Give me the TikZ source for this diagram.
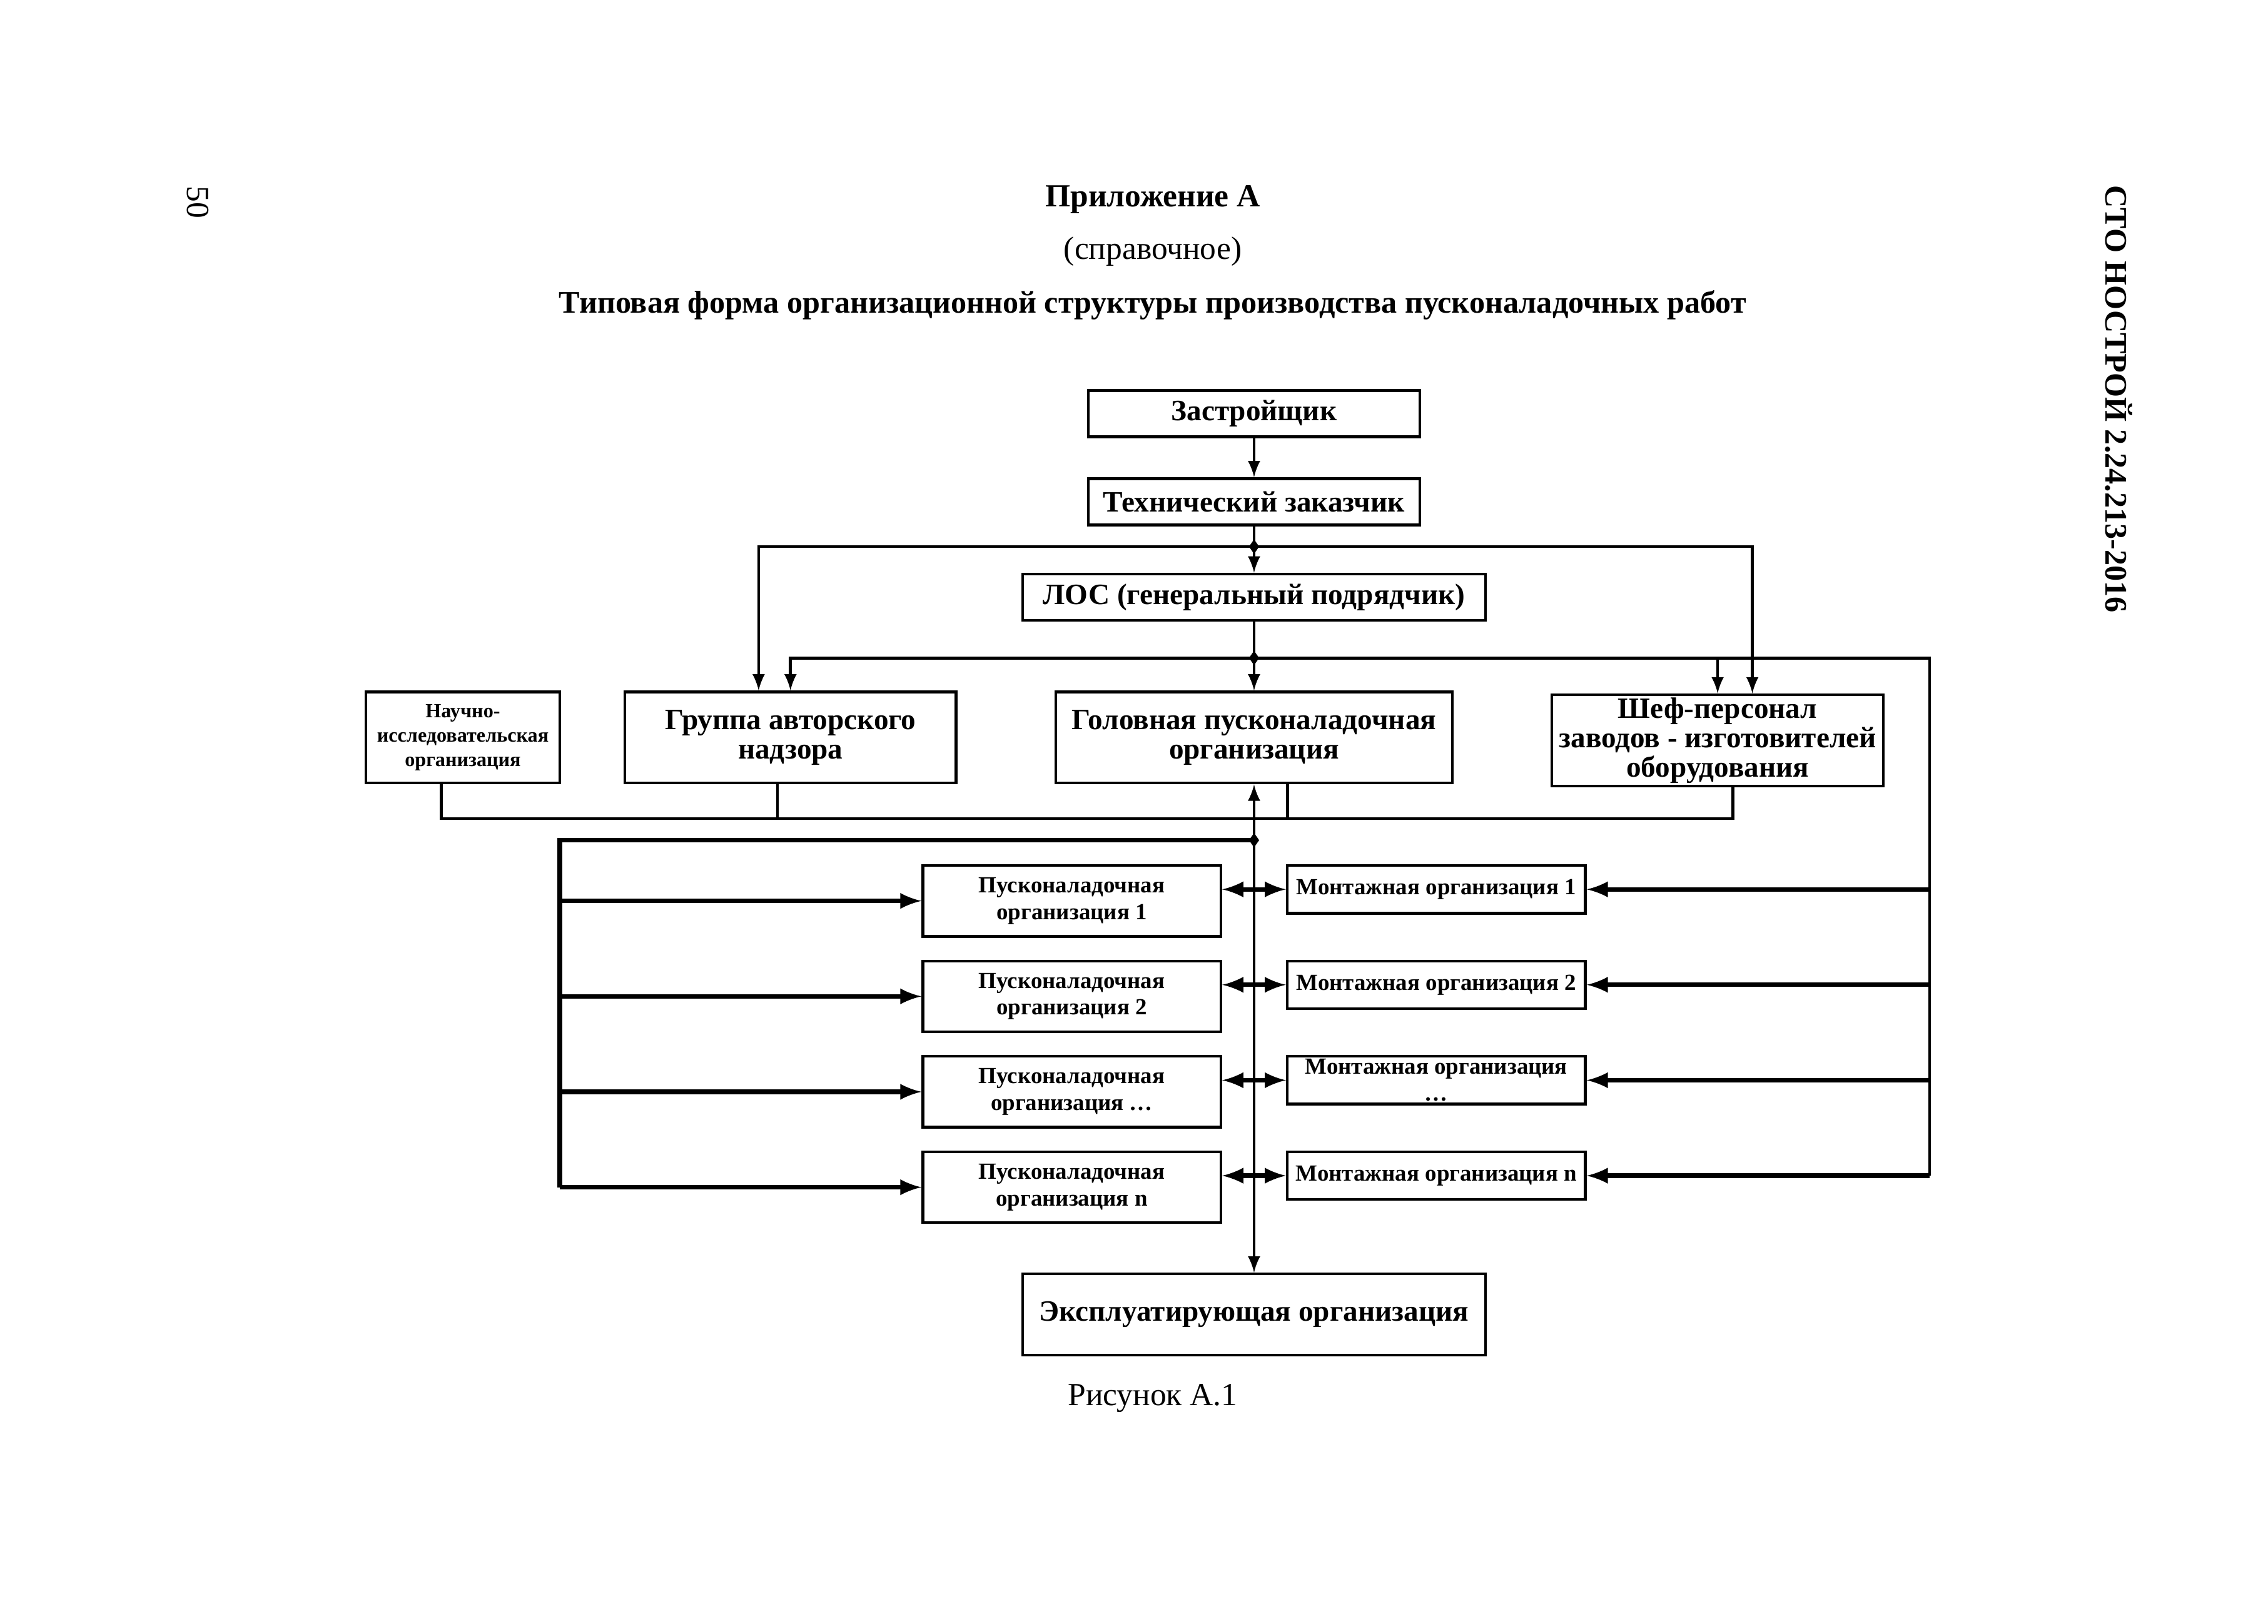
\documentclass[tikz,border=0pt]{standalone}
\usepackage{fontspec}
\setmainfont{Liberation Serif}
\usetikzlibrary{calc}
\begin{document}
\begin{tikzpicture}[x = 0.018941cm, y = -0.018941cm,
  box/.style = {draw = black, line width = 1pt, fill = white, inner sep = 0pt, align = center, font = \bfseries\fontsize{11}{11}\selectfont},
  small/.style = {box, font = \bfseries\fontsize{8.6}{10}\selectfont},
  link/.style = {line width = 1.1pt, >=latex},
  bus/.style = {line width = 1.7pt, >=latex}]
\pgfmathsetlengthmacro\px{0.018941cm}
\useasboundingbox (0,0) rectangle (1568,1123);
\node[rotate = -90, font = \fontsize{12}{14}\selectfont] (pagenum) at (137,140) {50};
\node[rotate = -90, font = \bfseries\fontsize{11.7}{14}\selectfont] (code) at (1465,276) {СТО НОСТРОЙ 2.24.213-2016};
\node[font = \bfseries\fontsize{12}{14}\selectfont] (app) at (797,138) {Приложение А};
\node[font = \fontsize{12}{14}\selectfont] (ref) at (797,174) {(справочное)};
\node[font = \bfseries\fontsize{11.7}{14}\selectfont] (title) at (797,211) {Типовая форма организационной структуры производства пусконаладочных работ};
\node[font = \fontsize{12}{14}\selectfont] (fig) at (797,967) {Рисунок А.1};
\node[box, minimum width = 229*\px, minimum height = 32*\px] (zastr) at (867,286) {Застройщик};
\node[box, minimum width = 229*\px, minimum height = 32*\px] (tehz) at (867,347) {Технический заказчик};
\node[box, minimum width = 320*\px, minimum height = 32*\px] (los) at (867,413) {ЛОС (генеральный подрядчик)};
\node[box, font = \bfseries\fontsize{7.5}{9}\selectfont, minimum width = 134*\px, minimum height = 63*\px] (nii) at (320,510) {Научно-\\исследовательская\\организация};
\node[box, minimum width = 229*\px, minimum height = 63*\px] (avtor) at (546.5,510) {Группа авторского\\надзора};
\node[box, minimum width = 274*\px, minimum height = 63*\px] (golov) at (867,510) {Головная пусконаладочная\\организация};
\node[box, minimum width = 229*\px, minimum height = 63*\px] (shef) at (1187.5,512) {Шеф-персонал\\заводов - изготовителей\\оборудования};
\node[box, minimum width = 320*\px, minimum height = 56*\px] (expl) at (867,909) {Эксплуатирующая организация};
\foreach \i/\y/\t/\m in {1/623/организация 1/Монтажная организация 1, 2/689/организация 2/Монтажная организация 2, 3/755/организация \ldots/Монтажная организация\\\ldots, 4/821/организация n/Монтажная организация n} {
  \node[small, minimum width = 206*\px, minimum height = 49*\px] (pno\i) at (741,\y) {Пусконаладочная\\\t};
  \node[small, minimum width = 206*\px, minimum height = 33*\px] (mont\i) at (993,\y-8) {\m};
}
\draw[link, ->] (zastr) -- (tehz);
\draw[link, ->] (tehz) -- (los);
\coordinate (j1) at (867,378);
\draw[link, ->] (j1) -| ($(avtor.north)+(-22,0)$);
\draw[link, ->] (j1) -| ($(shef.north)+(24,0)$);
\coordinate (j2) at (867,455);
\draw[link, ->] (los) -- (golov);
\draw[link, ->] (j2) -| (avtor.north);
\draw[link, ->] (j2) -| (shef.north);
\coordinate (rbus) at (1334,813);
\draw[link] (j2) -| (rbus);
\foreach \i in {1,2,3,4} \draw[bus, ->] (mont\i.east -| rbus) -- (mont\i.east);
\coordinate (bl) at (305,566);
\coordinate (br) at (1198,566);
\draw[link] (bl |- nii.south) -- (bl) -- (br) -- (br |- shef.south);
\draw[link] ($(avtor.south)+(-9,0)$) -- ($(avtor.south)+(-9,24)$);
\draw[link] ($(golov.south)+(23,0)$) -- ($(golov.south)+(23,24)$);
\draw[link, <->] (golov) -- (expl);
\coordinate (j3) at (867,581);
\coordinate (lbus) at (387,821);
\draw[bus] (j3) -| (lbus);
\foreach \i in {1,2,3,4} \draw[bus, ->] (pno\i.west -| lbus) -- (pno\i.west);
\foreach \i in {1,2,3,4} \draw[bus, <->] (pno\i.east |- mont\i.west) -- (mont\i.west);
\foreach \j in {j1,j2,j3} \fill (\j) +(0,-5) -- +(3.5,0) -- +(0,5) -- +(-3.5,0) -- cycle;
\end{tikzpicture}
\end{document}
